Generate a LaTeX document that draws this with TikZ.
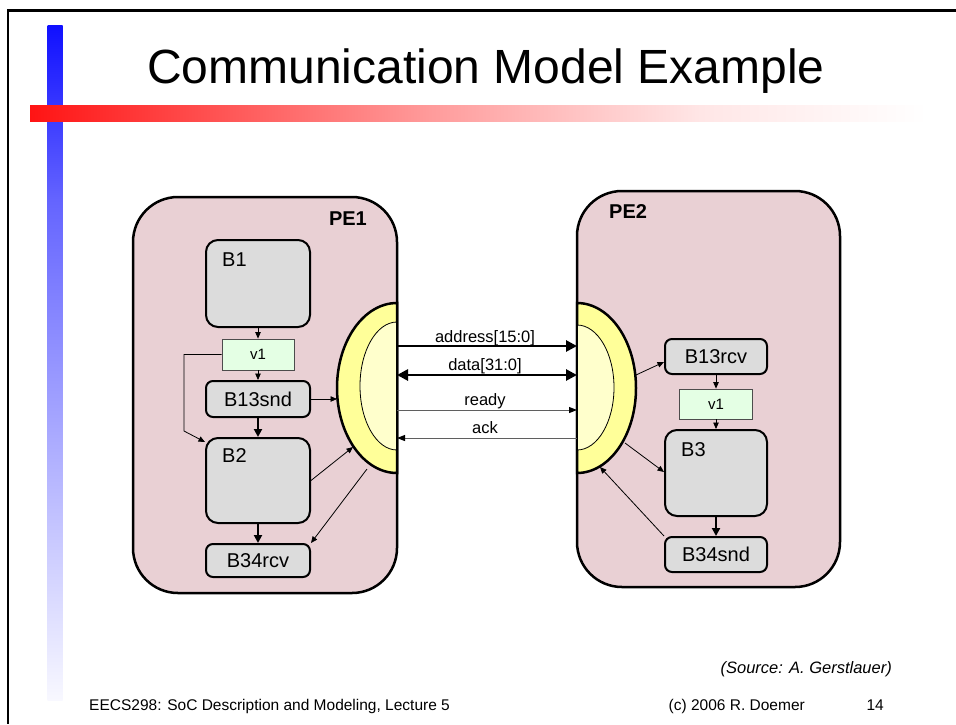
\documentclass[tikz,border=0pt]{standalone}
\usepackage{fontspec}
\setmainfont{Liberation Sans}
\usetikzlibrary{arrows.meta,calc}

\definecolor{pefill}{RGB}{233,208,212}
\definecolor{blkfill}{RGB}{220,220,220}
\definecolor{varfill}{RGB}{228,255,228}
\definecolor{busout}{RGB}{255,255,153}
\definecolor{busin}{RGB}{255,255,204}
\definecolor{sigline}{RGB}{95,95,95}
\definecolor{barblue}{RGB}{16,16,255}
\definecolor{barred}{RGB}{255,20,20}

\begin{document}
\begin{tikzpicture}[x=1pt,y=-1pt,
  pe/.style={draw,line width=2.5pt,fill=pefill,rounded corners=45pt,inner sep=0pt},
  blk/.style={draw,line width=2pt,fill=blkfill,rounded corners=12pt,inner sep=0pt,
    font=\fontsize{20}{22}\selectfont},
  smallblk/.style={blk,rounded corners=7pt},
  var/.style={draw=black!70,line width=0.8pt,fill=varfill,inner sep=0pt,
    font=\fontsize{15}{17}\selectfont},
  blktext/.style={anchor=base west,inner sep=0pt,font=\fontsize{20}{22}\selectfont},
  petext/.style={inner sep=0pt,font=\fontsize{20}{22}\selectfont\bfseries},
  thinarrow/.style={line width=0.8pt,-{Triangle[length=6.5pt,width=5.5pt]}},
  flow/.style={line width=2pt,-{Triangle[length=8pt,width=8pt]}},
  bus/.style={line width=2.7pt,-{Triangle[length=11pt,width=11pt]}},
  sig/.style={draw=sigline,line width=1pt,-{Triangle[length=8pt,width=6pt,color=black]}},
  siglabel/.style={anchor=base,inner sep=0pt,font=\fontsize{16.5}{18}\selectfont},
  foot/.style={inner sep=0pt,font=\fontsize{15.5}{17}\selectfont},
]
\useasboundingbox[fill=white] (0,0) rectangle (956,724);

% slide frame
\draw[line width=3pt] (7,10.5) -- (956,10.5);
\draw[line width=2.5pt] (8,9) -- (8,724);

% decorative bars
\shade[top color=barblue, bottom color={rgb,255:red,100;green,100;blue,255}] (47.5,25) rectangle (62.5,200);
\shade[top color={rgb,255:red,100;green,100;blue,255}, bottom color={rgb,255:red,248;green,248;blue,255}] (47.5,199.5) rectangle (62.5,700);
\shade[left color=barred, right color={rgb,255:red,255;green,154;blue,154}] (30,105) rectangle (427,121);
\shade[left color={rgb,255:red,255;green,154;blue,154}, right color={rgb,255:red,255;green,230;blue,230}] (426.5,105) rectangle (700,121);
\shade[left color={rgb,255:red,255;green,230;blue,230}, right color=white] (699.5,105) rectangle (927,121);

% title
\node[anchor=base,inner sep=0pt,font=\fontsize{48}{52}\selectfont] (title) at (486,83) {Communication Model Example};

% processing elements
\node[pe,minimum width=264pt,minimum height=396pt] (PE1) at (265,395) {};
\node[pe,minimum width=263pt,minimum height=396pt] (PE2) at (708.5,389) {};
\node[petext,anchor=base east] (PE1t) at (367,225) {PE1};
\node[petext,anchor=base west] (PE2t) at (609,218) {PE2};

% bus interface of PE1
\filldraw[fill=busout,line width=2.5pt] (397,303) arc[start angle=90,end angle=270,x radius=60pt,y radius=85pt] -- cycle;
\fill[busin] (397,322) arc[start angle=90,end angle=270,x radius=37pt,y radius=64pt] -- cycle;
\draw[line width=0.8pt] (397,322) arc[start angle=90,end angle=270,x radius=37pt,y radius=64pt];
\draw[line width=2.5pt] (397,298) -- (397,478);

% bus interface of PE2
\filldraw[fill=busout,line width=2.5pt] (577,303) arc[start angle=90,end angle=-90,x radius=59pt,y radius=85pt] -- cycle;
\fill[busin] (577,325) arc[start angle=90,end angle=-90,x radius=37pt,y radius=62.5pt] -- cycle;
\draw[line width=0.8pt] (577,325) arc[start angle=90,end angle=-90,x radius=37pt,y radius=62.5pt];
\draw[line width=2.5pt] (577,298) -- (577,478);

% port points on the interfaces
\coordinate (p1snd) at (337,399);
\coordinate (p1b2) at (353,447);
\coordinate (p1rcv) at (367,469);
\coordinate (p2rcv) at (636,375);
\coordinate (p2b3) at (625,443);
\coordinate (p2snd) at (600,467);

% behaviours in PE1
\node[blk,minimum width=104pt,minimum height=87pt] (B1) at (258,283.5) {};
\node[blktext] (B1t) at ($(B1.north west)+(17,27)$) {B1};
\node[var,minimum width=72pt,minimum height=31pt] (v1L) at (258,354.5) {v1};
\node[smallblk,minimum width=104pt,minimum height=36pt] (B13snd) at (258,399) {B13snd};
\node[blk,minimum width=104pt,minimum height=85pt] (B2) at (258,480.5) {};
\node[blktext] (B2t) at ($(B2.north west)+(17,25)$) {B2};
\node[smallblk,minimum width=104pt,minimum height=33pt] (B34rcv) at (258,560.5) {B34rcv};

% behaviours in PE2
\node[smallblk,minimum width=102pt,minimum height=35pt] (B13rcv) at (716,356.5) {B13rcv};
\node[var,minimum width=73pt,minimum height=30pt] (v1R) at (716,404) {v1};
\node[blk,minimum width=102pt,minimum height=86pt] (B3) at (716,473) {};
\node[blktext] (B3t) at ($(B3.north west)+(17,27)$) {B3};
\node[smallblk,minimum width=102pt,minimum height=35pt] (B34snd) at (716,554.5) {B34snd};

% connections in PE1
\draw[thinarrow] (B1) -- (v1L);
\draw[thinarrow] (v1L) -- (B13snd);
\draw[thinarrow] (v1L.west) -| ($(B2.north west)+(-21,-6)$) -- ($(B2.north west)+(0,5)$);
\draw[flow] (B13snd) -- (B2);
\draw[flow] (B2) -- (B34rcv);
\draw[thinarrow] (B13snd.east) -- (p1snd);
\draw[thinarrow] (B2.east) -- (p1b2);
\draw[thinarrow] (p1rcv) -- (B34rcv.north east);

% connections in PE2
\draw[thinarrow] (p2rcv) -- ($(B13rcv.west)+(0,5.5)$);
\draw[thinarrow] (B13rcv) -- (v1R);
\draw[thinarrow] (v1R) -- (B3);
\draw[flow] (B3) -- (B34snd);
\draw[thinarrow] (p2b3) -- ($(B3.west)+(0,-1)$);
\draw[thinarrow] (B34snd.north west) -- (p2snd);

% bus wires between the processing elements
\coordinate (a1) at (397,346); \coordinate (a2) at (577,346);
\coordinate (d1) at (397,375); \coordinate (d2) at (577,375);
\coordinate (r1) at (397,410); \coordinate (r2) at (577,410);
\coordinate (k1) at (397,438); \coordinate (k2) at (577,438);
\draw[bus] (a1) -- (a2);
\draw[bus,{Triangle[length=11pt,width=11pt]}-{Triangle[length=11pt,width=11pt]}] (d1) -- (d2);
\draw[sig] (r1) -- (r2);
\draw[sig] (k2) -- (k1);
\node[siglabel] (al) at (485,342) {address[15:0]};
\node[siglabel] (dl) at (485,370) {data[31:0]};
\node[siglabel] (rl) at (485,405) {ready};
\node[siglabel] (kl) at (485,433) {ack};

% footer
\node[foot,anchor=base east,font=\fontsize{16.5}{18}\selectfont\itshape] (src) at (892,673) {(Source: A. Gerstlauer)};
\node[foot,anchor=base west] (course) at (89,710) {EECS298: SoC Description and Modeling, Lecture 5};
\node[foot,anchor=base east] (copy) at (805,710) {(c) 2006 R. Doemer};
\node[foot,anchor=base east] (page) at (884,710) {14};
\end{tikzpicture}
\end{document}
